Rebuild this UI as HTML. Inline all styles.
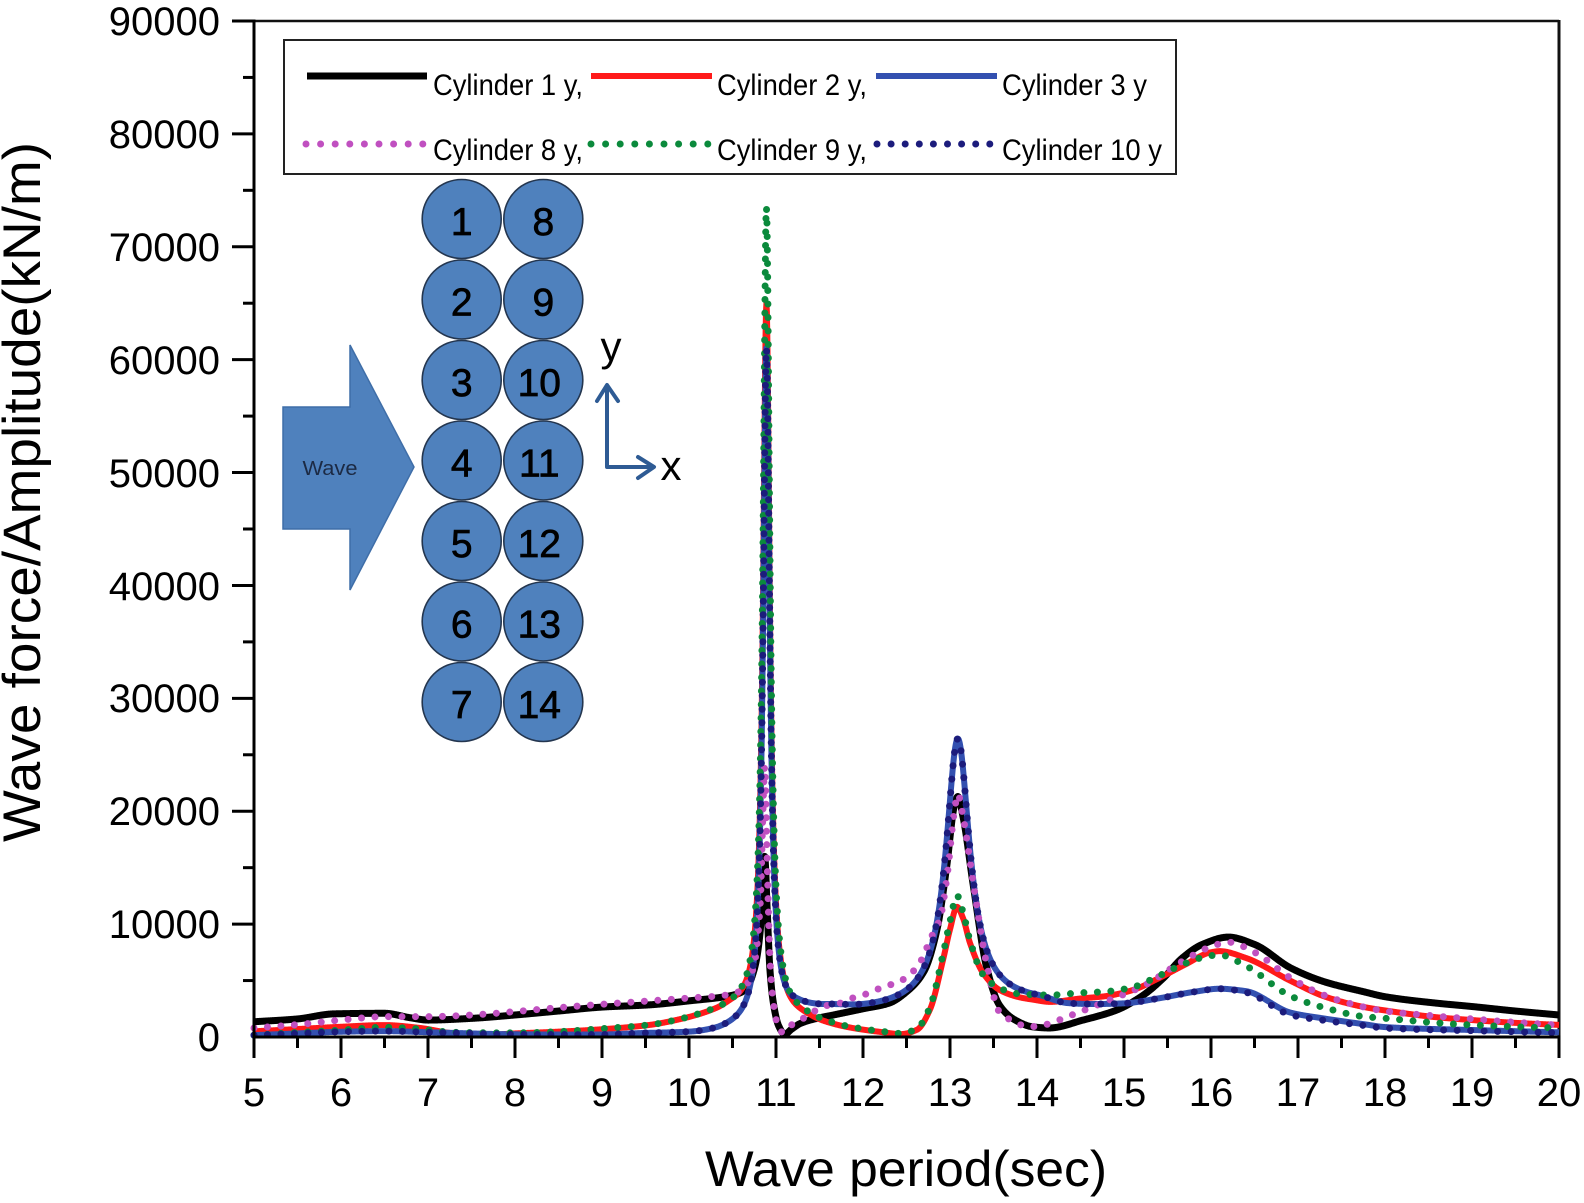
<!DOCTYPE html>
<html>
<head>
<meta charset="utf-8">
<style>
  html,body{margin:0;padding:0;background:#fff;}
  svg{display:block;}
  text{font-family:"Liberation Sans",Arial,sans-serif;fill:#000;}
</style>
</head>
<body>
<svg id="chart" width="1584" height="1203" viewBox="0 0 1584 1203" xmlns="http://www.w3.org/2000/svg">
  <rect x="0" y="0" width="1584" height="1203" fill="#fff"/>

  <!-- frame -->
  <line x1="254" y1="21" x2="1559" y2="21" stroke="#111" stroke-width="2.5"/>
  <line x1="1559" y1="20" x2="1559" y2="1038" stroke="#111" stroke-width="3"/>

  <g id="series"></g>

  <!-- axes -->
  <line x1="254" y1="19.5" x2="254" y2="1038.5" stroke="#000" stroke-width="3"/>
  <line x1="252.5" y1="1037" x2="1560.5" y2="1037" stroke="#000" stroke-width="3"/>
  <g id="ticks" stroke="#000" stroke-width="3"></g>

  <!-- y tick labels -->
  <g font-size="40" text-anchor="end">
    <text x="220" y="1051">0</text>
    <text x="220" y="938">10000</text>
    <text x="220" y="825">20000</text>
    <text x="220" y="712">30000</text>
    <text x="220" y="600">40000</text>
    <text x="220" y="487">50000</text>
    <text x="220" y="374">60000</text>
    <text x="220" y="261">70000</text>
    <text x="220" y="148">80000</text>
    <text x="220" y="35">90000</text>
  </g>

  <!-- x tick labels -->
  <g font-size="40" text-anchor="middle">
    <text x="254" y="1106">5</text>
    <text x="341" y="1106">6</text>
    <text x="428" y="1106">7</text>
    <text x="515" y="1106">8</text>
    <text x="602" y="1106">9</text>
    <text x="689" y="1106">10</text>
    <text x="776" y="1106">11</text>
    <text x="863" y="1106">12</text>
    <text x="950" y="1106">13</text>
    <text x="1037" y="1106">14</text>
    <text x="1124" y="1106">15</text>
    <text x="1211" y="1106">16</text>
    <text x="1298" y="1106">17</text>
    <text x="1385" y="1106">18</text>
    <text x="1472" y="1106">19</text>
    <text x="1559" y="1106">20</text>
  </g>

  <!-- axis titles -->
  <text x="906" y="1186" font-size="50" text-anchor="middle" textLength="402" lengthAdjust="spacingAndGlyphs">Wave period(sec)</text>
  <text transform="translate(40,492) rotate(-90)" font-size="53" text-anchor="middle" textLength="700" lengthAdjust="spacingAndGlyphs">Wave force/Amplitude(kN/m)</text>

  <!-- legend -->
  <rect x="284" y="40" width="892" height="134" fill="#fff" stroke="#222" stroke-width="2"/>
  <line x1="307" y1="76" x2="427" y2="76" stroke="#000" stroke-width="7"/>
  <line x1="591" y1="76" x2="712" y2="76" stroke="#ff1a1a" stroke-width="6"/>
  <line x1="876" y1="76" x2="997" y2="76" stroke="#3350b0" stroke-width="6"/>
  <line x1="306" y1="144" x2="424" y2="144" stroke="#c050c0" stroke-width="7" stroke-linecap="round" stroke-dasharray="0 14.6"/>
  <line x1="591" y1="144" x2="708" y2="144" stroke="#0b8a3c" stroke-width="7" stroke-linecap="round" stroke-dasharray="0 14.6"/>
  <line x1="877" y1="144" x2="990" y2="144" stroke="#1c1c7c" stroke-width="7" stroke-linecap="round" stroke-dasharray="0 14.1"/>
  <g font-size="30">
    <text x="433" y="95" textLength="150" lengthAdjust="spacingAndGlyphs">Cylinder 1 y,</text>
    <text x="717" y="95" textLength="150" lengthAdjust="spacingAndGlyphs">Cylinder 2 y,</text>
    <text x="1002" y="95" textLength="145" lengthAdjust="spacingAndGlyphs">Cylinder 3 y</text>
    <text x="433" y="160" textLength="150" lengthAdjust="spacingAndGlyphs">Cylinder 8 y,</text>
    <text x="717" y="160" textLength="150" lengthAdjust="spacingAndGlyphs">Cylinder 9 y,</text>
    <text x="1002" y="160" textLength="160" lengthAdjust="spacingAndGlyphs">Cylinder 10 y</text>
  </g>

  <!-- inset: wave arrow -->
  <polygon points="283,407 350,407 350,345 414,467 350,590 350,529 283,529" fill="#4f81bd" stroke="#3f6ea8" stroke-width="1.5"/>
  <text x="330" y="475" font-size="20" text-anchor="middle" textLength="55" lengthAdjust="spacingAndGlyphs" style="fill:#1c2a44">Wave</text>

  <!-- inset: cylinders -->
  <g fill="#4f81bd" stroke="#24364f" stroke-width="1.6">
    <circle cx="461.7" cy="219" r="39.5"/><circle cx="543.3" cy="219" r="39.5"/>
    <circle cx="461.7" cy="299.5" r="39.5"/><circle cx="543.3" cy="299.5" r="39.5"/>
    <circle cx="461.7" cy="380" r="39.5"/><circle cx="543.3" cy="380" r="39.5"/>
    <circle cx="461.7" cy="460.5" r="39.5"/><circle cx="543.3" cy="460.5" r="39.5"/>
    <circle cx="461.7" cy="541" r="39.5"/><circle cx="543.3" cy="541" r="39.5"/>
    <circle cx="461.7" cy="621.5" r="39.5"/><circle cx="543.3" cy="621.5" r="39.5"/>
    <circle cx="461.7" cy="702" r="39.5"/><circle cx="543.3" cy="702" r="39.5"/>
  </g>
  <g font-size="39" text-anchor="middle" style="stroke:#000;stroke-width:0.7">
    <text x="461.7" y="235">1</text><text x="543.3" y="235">8</text>
    <text x="461.7" y="315.5">2</text><text x="543.3" y="315.5">9</text>
    <text x="461.7" y="396">3</text><text x="539.3" y="396">10</text>
    <text x="461.7" y="476.5">4</text><text x="539.3" y="476.5">11</text>
    <text x="461.7" y="557">5</text><text x="539.3" y="557">12</text>
    <text x="461.7" y="637.5">6</text><text x="539.3" y="637.5">13</text>
    <text x="461.7" y="718">7</text><text x="539.3" y="718">14</text>
  </g>

  <!-- inset: xy axes -->
  <g stroke="#2e5b94" stroke-width="4" fill="none" stroke-linecap="round" stroke-linejoin="round">
    <polyline points="607,386 607,467 653,467"/>
    <polyline points="597,401 607,385 618,401"/>
    <polyline points="638,457 654,467 638,478"/>
  </g>
  <text x="611" y="361" font-size="42" text-anchor="middle">y</text>
  <text x="671" y="480" font-size="42" text-anchor="middle">x</text>
</svg>

<script>
(function(){
  var NS="http://www.w3.org/2000/svg";
  var X=function(t){return 254+(t-5)*87;};
  var Y=function(v){return 1037-v*0.011289;};
  var tk=document.getElementById("ticks"), s="";
  for(var k=0;k<=15;k++){var x=X(5+k);s+='<line x1="'+x+'" y1="1037" x2="'+x+'" y2="1058"/>';}
  for(var k=0;k<15;k++){var x=X(5.5+k);s+='<line x1="'+x+'" y1="1037" x2="'+x+'" y2="1048"/>';}
  for(var k=1;k<=9;k++){var y=Y(k*10000);s+='<line x1="232" y1="'+y+'" x2="254" y2="'+y+'"/>';}
  for(var k=0;k<9;k++){var y=Y(5000+k*10000);s+='<line x1="243" y1="'+y+'" x2="254" y2="'+y+'"/>';}
  tk.innerHTML=s;

  function mono(pts){
    var n=pts.length,xs=[],ys=[],d=[],m=[];
    for(var i=0;i<n;i++){xs.push(pts[i][0]);ys.push(pts[i][1]);}
    for(var i=0;i<n-1;i++)d.push((ys[i+1]-ys[i])/(xs[i+1]-xs[i]));
    m[0]=d[0];m[n-1]=d[n-2];
    for(var i=1;i<n-1;i++){
      if(d[i-1]*d[i]<=0)m[i]=0;
      else{var h0=xs[i]-xs[i-1],h1=xs[i+1]-xs[i];var w1=2*h1+h0,w2=h1+2*h0;m[i]=(w1+w2)/(w1/d[i-1]+w2/d[i]);}
    }
    return function(t){
      var i=0;while(i<n-2&&t>xs[i+1])i++;
      var h=xs[i+1]-xs[i],u=(t-xs[i])/h;
      var h00=2*u*u*u-3*u*u+1,h10=u*u*u-2*u*u+u,h01=-2*u*u*u+3*u*u,h11=u*u*u-u*u;
      return h00*ys[i]+h10*h*m[i]+h01*ys[i+1]+h11*h*m[i+1];
    };
  }
  function L(t,t0,A,g){var z=(t-t0)/g;return A/(1+z*z);}
  var G=0.046;

  var blackF=mono([[5,1350],[5.5,1600],[5.92,2050],[6.5,2100],[6.8,1700],[7,1500],[7.5,1650],[8,1950],[8.5,2300],[9,2650],[9.55,2850],[10,3200],[10.5,3700],[10.65,4200],[10.75,6000],[10.82,9500],[10.85,14000],[10.87,16000],[10.9,11000],[10.93,6000],[10.97,3000],[11.03,1000],[11.1,250],[11.18,700],[11.28,1200],[11.47,1650],[11.66,1950],[12,2500],[12.3,3000],[12.5,4000],[12.7,5800],[12.85,9500],[12.96,15000],[13.05,20500],[13.09,21300],[13.15,19500],[13.27,13300],[13.42,6200],[13.57,2800],[13.75,1500],[13.95,900],[14.14,800],[14.53,1500],[14.92,2400],[15.22,3700],[15.45,5200],[15.67,7000],[15.9,8200],[16.2,8850],[16.5,8200],[16.92,6100],[17.3,4900],[17.76,4000],[18,3570],[18.59,3000],[19,2700],[19.5,2300],[20,1950]]);

  var pinkF=mono([[5,800],[5.5,1100],[6,1500],[6.5,1800],[7,1800],[7.5,1950],[8,2250],[8.5,2600],[9,2900],[9.55,3200],[10,3450],[10.5,3800],[10.65,4500],[10.75,6500],[10.82,12000],[10.85,20000],[10.87,24000],[10.9,15000],[10.93,7000],[10.97,3000],[11.03,800],[11.08,400],[11.2,1200],[11.35,1800],[11.54,2700],[11.74,3000],[11.93,3600],[12.08,3900],[12.23,4450],[12.39,4800],[12.5,5300],[12.62,6200],[12.69,7100],[12.77,8600],[12.89,10650],[12.97,14500],[13.05,20000],[13.09,21500],[13.15,19500],[13.27,13500],[13.42,6500],[13.57,2200],[13.73,1400],[13.9,900],[14.1,1100],[14.35,1800],[14.78,3100],[15.24,4600],[15.67,6700],[16,8000],[16.2,8400],[16.5,7500],[16.92,5200],[17.3,3700],[17.76,2650],[18,2300],[18.59,1850],[19,1600],[19.5,1300],[20,1050]]);

  var redBg=mono([[5,500],[5.5,700],[6,900],[6.5,1050],[6.9,800],[7.3,300],[7.6,150],[8,300],[8.5,450],[9,650],[9.55,1000],[9.93,1500],[10.32,2200],[10.5,2600],[10.7,2700],[10.89,3000],[11.16,1900],[11.31,1650],[11.54,1150],[11.85,700],[12.23,350],[12.43,200],[12.62,600],[12.77,2400],[12.92,6800],[13,9500],[13.08,11500],[13.15,10500],[13.23,8300],[13.38,5650],[13.57,4150],[13.8,3500],[13.95,3300],[14.15,3100],[14.5,3400],[14.78,3600],[15.1,4150],[15.4,5200],[15.7,6400],[16,7500],[16.1,7600],[16.4,7000],[16.92,4950],[17.3,3600],[17.76,2650],[18,2350],[18.59,1750],[19,1500],[19.5,1250],[20,1070]]);
  var redF=function(t){return redBg(t)+L(t,10.89,62000,G);};

  var greenBg=mono([[5,150],[5.5,400],[6,600],[6.5,850],[6.9,700],[7.3,400],[8,350],[8.5,450],[9,700],[9.55,1000],[9.93,1500],[10.32,2200],[10.5,2500],[10.7,2800],[10.89,3200],[11.16,2000],[11.31,1750],[11.54,1250],[11.85,750],[12.23,400],[12.43,250],[12.62,700],[12.77,2600],[12.92,7300],[13,10200],[13.08,12500],[13.15,11000],[13.23,8500],[13.38,5500],[13.57,4300],[13.8,3800],[14.15,3700],[14.5,3900],[14.78,4000],[15.1,4400],[15.4,5400],[15.7,6500],[16,7200],[16.1,7250],[16.4,6300],[16.92,3600],[17.3,2600],[17.76,1800],[18,1650],[18.59,1250],[19,1060],[19.5,900],[20,800]]);
  var greenF=function(t){return greenBg(t)+L(t,10.89,70300,G);};

  var blueBg=mono([[5,150],[5.5,300],[6,450],[6.5,500],[7,400],[8,200],[9,150],[9.55,250],[10,250],[10.3,400],[10.5,700],[10.7,1100],[10.89,1700],[11.08,1900],[11.28,2300],[11.5,2350],[11.66,2400],[12,2300],[12.43,2400],[12.8,2600],[13.09,2800],[13.4,3000],[13.7,3000],[14,3000],[14.35,2600],[15,2800],[15.4,3300],[15.8,3900],[16.1,4200],[16.4,4000],[16.92,2100],[17.3,1600],[17.76,1100],[18,850],[19,600],[20,400]]);
  var blueF=function(t){return blueBg(t)+L(t,10.89,59200,G)+L(t,13.09,23600,0.165);};
  var navyF=function(t){var f=1;if(t>16.2){f=1-0.1*Math.min(1,(t-16.2)/0.8);}return blueF(t)*f;};

  function path(F){
    var d="",first=true;
    for(var i=0;i<=3000;i++){
      var t=5+i*0.005;var v=F(t);if(v<0)v=0;
      d+=(first?"M":"L")+X(t).toFixed(2)+" "+Y(v).toFixed(2);first=false;
    }
    return d;
  }
  var g=document.getElementById("series");
  var defs=[
    [blackF,"#000",7,null],
    [redF,"#ff1a1a",6,null],
    [blueF,"#3350b0",6,null],
    [pinkF,"#c050c0",7,"0 13.5"],
    [greenF,"#0b8a3c",7,"0 13.5"],
    [navyF,"#1c1c7c",7,"0 13.5"]
  ];
  for(var j=0;j<defs.length;j++){
    var p=document.createElementNS(NS,"path");
    p.setAttribute("d",path(defs[j][0]));
    p.setAttribute("fill","none");
    p.setAttribute("stroke",defs[j][1]);
    p.setAttribute("stroke-width",defs[j][2]);
    p.setAttribute("stroke-linejoin","round");
    if(defs[j][3]){p.setAttribute("stroke-dasharray",defs[j][3]);p.setAttribute("stroke-linecap","round");}
    g.appendChild(p);
  }
})();
</script>
</body>
</html>
